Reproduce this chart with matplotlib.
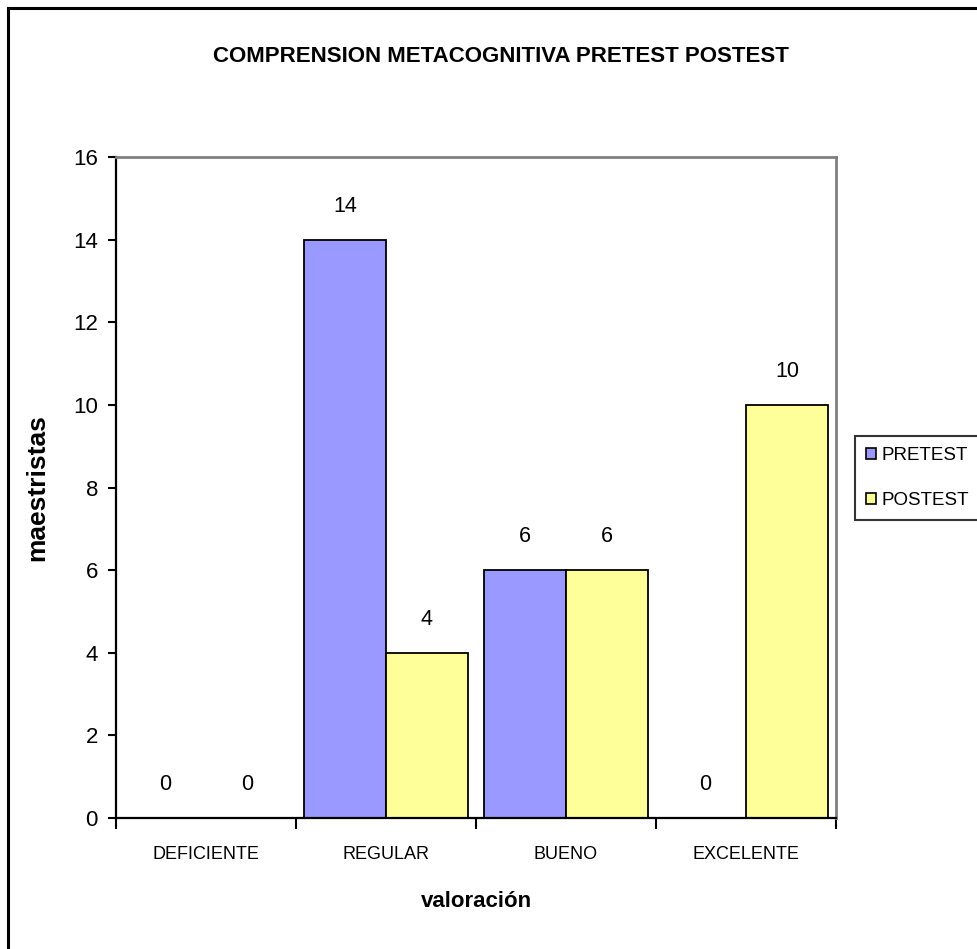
import matplotlib
matplotlib.use("Agg")
import matplotlib.pyplot as plt
from matplotlib.lines import Line2D
from matplotlib.patches import Patch
import numpy as np

plt.rcParams['font.family'] = ['Liberation Sans', 'DejaVu Sans']

categories = ["DEFICIENTE", "REGULAR", "BUENO", "EXCELENTE"]
pretest = [0, 14, 6, 0]
postest = [0, 4, 6, 10]
series_names = ["PRETEST", "POSTEST"]
yticks = [0, 2, 4, 6, 8, 10, 12, 14, 16]

W, H = 977, 949
fig = plt.figure(figsize=(W / 100, H / 100), dpi=100)

# plot area in pixel coordinates
left, right, top, bottom = 116, 836, 157, 818
ax = fig.add_axes([left / W, 1 - bottom / H, (right - left) / W, (bottom - top) / H])

x = np.arange(len(categories))
bw = 0.455
ax.bar(x - bw / 2, pretest, bw, color="#9999FF", edgecolor="black", linewidth=1.3, label=series_names[0])
ax.bar(x + bw / 2, postest, bw, color="#FFFF99", edgecolor="black", linewidth=1.3, label=series_names[1])

for xi, v in zip(x - bw / 2, pretest):
    ax.annotate(str(v), (xi, v), xytext=(0, 24), textcoords="offset points",
                ha="center", va="center", fontsize=15.5)
for xi, v in zip(x + bw / 2, postest):
    ax.annotate(str(v), (xi, v), xytext=(0, 24), textcoords="offset points",
                ha="center", va="center", fontsize=15.5)

ax.set_xlim(-0.5, len(categories) - 0.5)
ax.set_ylim(0, 16)
ax.set_yticks(yticks)
ax.set_yticklabels([str(t) for t in yticks], fontsize=16)
ax.tick_params(axis="y", direction="out", length=6, width=1.5, pad=7)

ax.set_xticks(np.arange(len(categories) + 1) - 0.5)
ax.set_xticklabels([])
ax.set_xticks(x, minor=True)
ax.set_xticklabels(categories, minor=True, fontsize=13)
ax.tick_params(axis="x", which="major", direction="out", length=8, width=1.5)
ax.tick_params(axis="x", which="minor", length=0, pad=20)

for s in ("left", "bottom"):
    ax.spines[s].set_color("black")
    ax.spines[s].set_linewidth(1.6)
for s in ("top", "right"):
    ax.spines[s].set_color("#808080")
    ax.spines[s].set_linewidth(2)

ax.set_xlabel("valoración", fontsize=16, fontweight="bold", labelpad=20)
ax.set_ylabel("maestristas", fontsize=19, fontweight="bold", labelpad=17)

fig.text(501 / W, 1 - 57 / H, "COMPRENSION METACOGNITIVA PRETEST POSTEST",
         ha="center", va="center", fontsize=16, fontweight="bold")

handles = [Patch(facecolor="#9999FF", edgecolor="black", linewidth=1.2),
           Patch(facecolor="#FFFF99", edgecolor="black", linewidth=1.2)]
leg = fig.legend(handles, series_names, loc="center left",
                 bbox_to_anchor=(855 / W, 1 - 478 / H), fontsize=13.5,
                 frameon=True, fancybox=False, edgecolor="black",
                 handlelength=0.5, handleheight=0.5, handletextpad=0.3,
                 labelspacing=1.5, borderpad=0.6, borderaxespad=0)
leg.get_frame().set_linewidth(1.5)

# outer chart frame
fig.add_artist(Line2D([7.5 / W, 7.5 / W], [0, 1 - 7.5 / H], color="black", linewidth=2.2,
                      transform=fig.transFigure))
fig.add_artist(Line2D([7.5 / W, 1], [1 - 7.5 / H, 1 - 7.5 / H], color="black", linewidth=2.2,
                      transform=fig.transFigure))

fig.savefig("out.png", dpi=100)
